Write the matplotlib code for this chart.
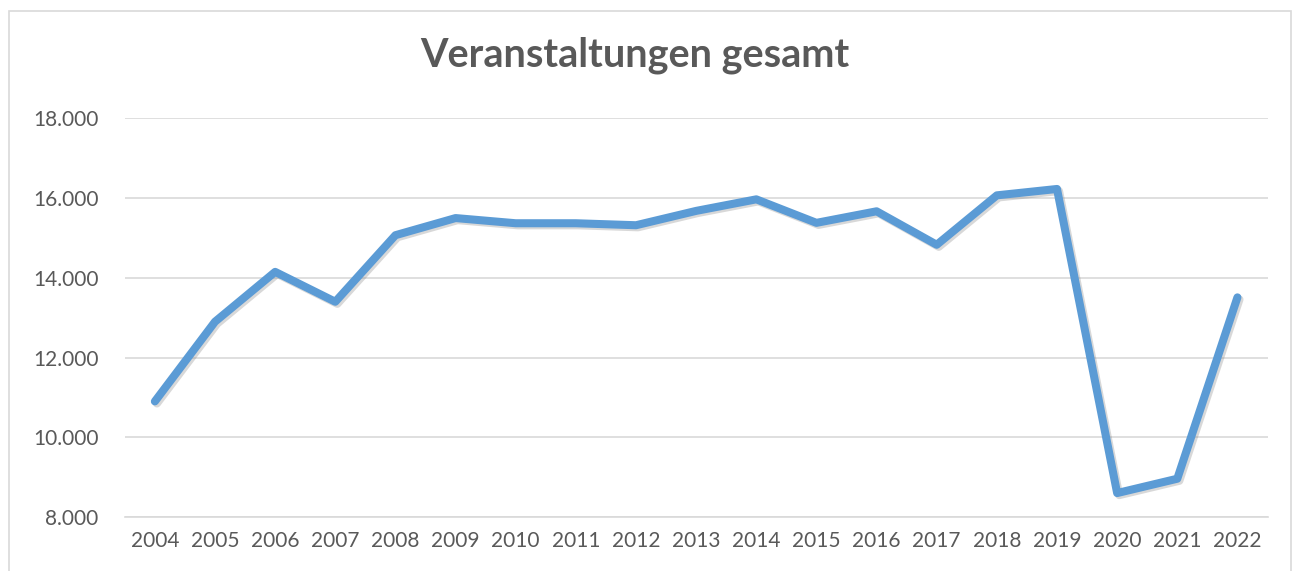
import matplotlib.pyplot as plt
import matplotlib.patheffects as pe
from matplotlib.patches import Rectangle
from matplotlib.ticker import FuncFormatter

years = ["2004", "2005", "2006", "2007", "2008", "2009", "2010", "2011", "2012", "2013",
         "2014", "2015", "2016", "2017", "2018", "2019", "2020", "2021", "2022"]
events = [10900, 12900, 14150, 13400, 15070, 15500, 15370, 15370, 15320, 15680,
          15970, 15380, 15670, 14830, 16070, 16230, 8600, 8960, 13510]
title = "Veranstaltungen gesamt"

plt.rcParams["font.family"] = ["Lato", "DejaVu Sans"]

fig = plt.figure(figsize=(13, 5.71), dpi=100)
ax = fig.add_axes([0.096, 0.0946, 0.879, 0.698])

x = list(range(len(years)))
ax.plot(x, events, color="#5B9BD5", linewidth=5.8, solid_joinstyle="round",
        solid_capstyle="round", zorder=3,
        path_effects=[pe.SimpleLineShadow(offset=(1.5, -1.5), shadow_color="gray", alpha=0.3),
                      pe.Normal()])

ax.set_xlim(-0.5, len(years) - 0.5)
ax.set_ylim(8000, 18000)
ax.set_yticks(range(8000, 18001, 2000))
ax.yaxis.set_major_formatter(FuncFormatter(lambda v, p: f"{int(v):,}".replace(",", ".")))
ax.set_xticks(x)
ax.set_xticklabels(years)

ax.grid(axis="y", color="#D9D9D9", linewidth=1.2)
ax.set_axisbelow(True)
for s in ["top", "right", "left"]:
    ax.spines[s].set_visible(False)
ax.spines["bottom"].set_color("#D9D9D9")
ax.spines["bottom"].set_linewidth(1.2)
ax.tick_params(length=0, labelsize=15, colors="#595959")
ax.tick_params(axis="y", pad=19)
ax.tick_params(axis="x", pad=10)

fig.text(0.488, 0.903, title, ha="center", va="center", fontsize=28.5,
         fontweight="bold", color="#595959")

fig.patches.append(Rectangle((0.007, -0.02), 0.986, 1.0, transform=fig.transFigure,
                             fill=False, edgecolor="#D9D9D9", linewidth=1.2))

fig.savefig("out.png", dpi=100)
